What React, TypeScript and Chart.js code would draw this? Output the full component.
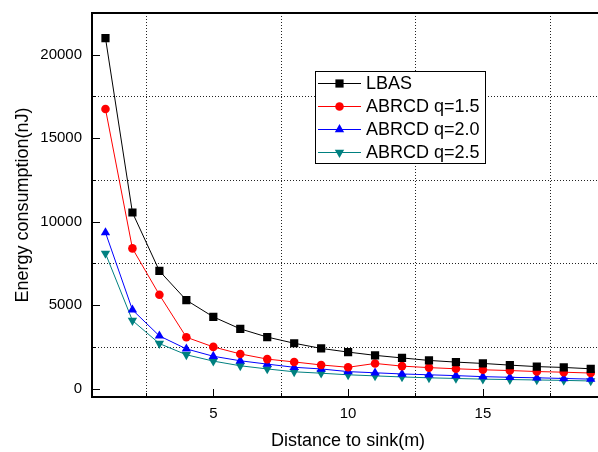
import React, { useEffect, useRef } from "react";
import { Chart, registerables } from "chart.js";

Chart.register(...registerables);

const distances = [1, 2, 3, 4, 5, 6, 7, 8, 9, 10, 11, 12, 13, 14, 15, 16, 17, 18, 19];
const lbas = [21000, 10550, 7050, 5300, 4300, 3580, 3090, 2720, 2410, 2190, 1995, 1840, 1690, 1590, 1510, 1410, 1320, 1270, 1190];
const abrcd15 = [16750, 8400, 5620, 3080, 2500, 2080, 1770, 1600, 1420, 1280, 1510, 1350, 1260, 1190, 1130, 1085, 1025, 985, 935];
const abrcd20 = [9350, 4720, 3160, 2380, 1940, 1670, 1470, 1280, 1180, 1020, 950, 880, 830, 780, 720, 680, 650, 610, 570];
const abrcd25 = [8100, 4080, 2700, 2030, 1650, 1370, 1180, 1010, 925, 830, 765, 700, 650, 610, 570, 545, 520, 495, 460];

const seriesNames = ["LBAS", "ABRCD q=1.5", "ABRCD q=2.0", "ABRCD q=2.5"];
const xTicks = [5, 10, 15];
const yTicks = [0, 5000, 10000, 15000, 20000];
const xMinor = [2.5, 7.5, 12.5, 17.5];
const yMinor = [2500, 7500, 12500, 17500];

const FONT = "Arial, 'Liberation Sans', sans-serif";

function drawMarker(ctx: CanvasRenderingContext2D, style: string, rotation: number, x: number, y: number, r: number, color: string) {
  ctx.save();
  ctx.fillStyle = color;
  ctx.beginPath();
  if (style === "rect") {
    const s = Math.SQRT1_2 * r;
    ctx.rect(x - s, y - s, 2 * s, 2 * s);
  } else if (style === "circle") {
    ctx.arc(x, y, r, 0, Math.PI * 2);
  } else if (rotation !== 180) {
    const h = r * Math.sqrt(3) / 2;
    ctx.moveTo(x, y - r);
    ctx.lineTo(x + h, y + r / 2);
    ctx.lineTo(x - h, y + r / 2);
    ctx.closePath();
  } else {
    const h = r * Math.sqrt(3) / 2;
    ctx.moveTo(x, y + r);
    ctx.lineTo(x + h, y - r / 2);
    ctx.lineTo(x - h, y - r / 2);
    ctx.closePath();
  }
  ctx.fill();
  ctx.restore();
}

const framePlugin = {
  id: "framePlugin",
  beforeDatasetsDraw(chart: any) {
    const { ctx, chartArea: a, scales } = chart;
    const x = scales.x;
    const y = scales.y;
    ctx.save();
    ctx.strokeStyle = "#222";
    ctx.lineWidth = 1;
    ctx.setLineDash([1, 2]);
    ctx.beginPath();
    xMinor.forEach((v) => {
      const px = Math.round(x.getPixelForValue(v)) + 0.5;
      ctx.moveTo(px, a.top);
      ctx.lineTo(px, a.bottom);
    });
    yMinor.forEach((v) => {
      const py = Math.round(y.getPixelForValue(v)) + 0.5;
      ctx.moveTo(a.left, py);
      ctx.lineTo(a.right, py);
    });
    ctx.stroke();
    ctx.restore();
  },
  afterDatasetsDraw(chart: any) {
    const { ctx, chartArea: a, scales } = chart;
    const x = scales.x;
    const y = scales.y;
    ctx.save();
    ctx.strokeStyle = "#000";
    ctx.lineWidth = 1;
    ctx.beginPath();
    xTicks.forEach((v) => {
      const px = Math.round(x.getPixelForValue(v)) + 0.5;
      ctx.moveTo(px, a.bottom);
      ctx.lineTo(px, a.bottom - 8);
    });
    xMinor.forEach((v) => {
      const px = Math.round(x.getPixelForValue(v)) + 0.5;
      ctx.moveTo(px, a.bottom);
      ctx.lineTo(px, a.bottom - 4);
    });
    yTicks.forEach((v) => {
      const py = Math.round(y.getPixelForValue(v)) + 0.5;
      ctx.moveTo(a.left, py);
      ctx.lineTo(a.left + 8, py);
    });
    yMinor.forEach((v) => {
      const py = Math.round(y.getPixelForValue(v)) + 0.5;
      ctx.moveTo(a.left, py);
      ctx.lineTo(a.left + 4, py);
    });
    ctx.stroke();
    ctx.lineWidth = 2;
    ctx.strokeRect(a.left, a.top, a.right - a.left, a.bottom - a.top);

    // legend
    const lx = 315, ly = 71, lw = 170, lh = 92;
    ctx.fillStyle = "#fff";
    ctx.fillRect(lx, ly, lw, lh);
    ctx.lineWidth = 1;
    ctx.strokeStyle = "#000";
    ctx.strokeRect(lx + 0.5, ly + 0.5, lw, lh);
    const rowY = [83, 106, 129, 152];
    chart.data.datasets.forEach((ds: any, i: number) => {
      const cy = rowY[i] + 0.5;
      ctx.strokeStyle = ds.borderColor;
      ctx.lineWidth = 1;
      ctx.beginPath();
      ctx.moveTo(318, cy);
      ctx.lineTo(361, cy);
      ctx.stroke();
      drawMarker(ctx, ds.pointStyle, ds.pointRotation || 0, 339.5, cy, ds.pointRadius, ds.backgroundColor);
      ctx.fillStyle = "#000";
      ctx.font = `18px ${FONT}`;
      ctx.textBaseline = "middle";
      ctx.textAlign = "left";
      ctx.fillText(ds.label, 366, cy + 1);
    });
    ctx.restore();
  },
};

function makeSeries(label: string, values: number[], color: string, pointStyle: string, radius: number, rotation = 0) {
  return {
    label,
    data: distances.map((d, i) => ({ x: d, y: values[i] })),
    borderColor: color,
    backgroundColor: color,
    borderWidth: 1,
    pointStyle,
    pointRadius: radius,
    pointHoverRadius: radius,
    pointBorderWidth: 0,
    pointRotation: rotation,
    tension: 0,
  };
}

export default function App() {
  const canvasRef = useRef<HTMLCanvasElement | null>(null);

  useEffect(() => {
    if (!canvasRef.current) return;
    const chart = new Chart(canvasRef.current, {
      type: "line",
      data: {
        datasets: [
          makeSeries(seriesNames[0], lbas, "#000000", "rect", 5.8),
          makeSeries(seriesNames[1], abrcd15, "#ff0000", "circle", 4.3),
          makeSeries(seriesNames[2], abrcd20, "#0000ff", "triangle", 5.4),
          makeSeries(seriesNames[3], abrcd25, "#008080", "triangle", 5.4, 180),
        ] as any,
      },
      options: {
        responsive: false,
        animation: false,
        devicePixelRatio: 1,
        layout: { padding: { top: 13, right: 4, left: 0, bottom: 0 } },
        plugins: {
          legend: { display: false },
          tooltip: { enabled: false },
        },
        scales: {
          x: {
            type: "linear",
            min: 0.5,
            max: 19.5,
            afterBuildTicks: (scale: any) => {
              scale.ticks = xTicks.map((v) => ({ value: v }));
            },
            afterFit: (scale: any) => {
              scale.height = 55;
              scale.paddingLeft = 0;
              scale.paddingRight = 0;
            },
            grid: { display: false, drawTicks: false },
            border: { display: false },
            ticks: {
              color: "#000",
              font: { family: FONT, size: 15 },
              padding: 8,
              maxRotation: 0,
              autoSkip: false,
              callback: (v: any) => String(v),
            },
            title: {
              display: true,
              text: "Distance to sink(m)",
              color: "#000",
              font: { family: FONT, size: 18 },
              padding: { top: 0, bottom: 0 },
            },
          },
          y: {
            type: "linear",
            min: -500,
            max: 22500,
            afterBuildTicks: (scale: any) => {
              scale.ticks = yTicks.map((v) => ({ value: v }));
            },
            afterFit: (scale: any) => {
              scale.width = 92;
              scale.paddingTop = 0;
              scale.paddingBottom = 0;
            },
            grid: { display: false, drawTicks: false },
            border: { display: false },
            ticks: {
              color: "#000",
              font: { family: FONT, size: 15 },
              padding: 10,
              autoSkip: false,
              callback: (v: any) => String(v),
            },
            title: {
              display: true,
              text: "Energy consumption(nJ)",
              color: "#000",
              font: { family: FONT, size: 18 },
              padding: { top: 12, bottom: 0 },
            },
          },
        },
      } as any,
      plugins: [framePlugin],
    });
    return () => chart.destroy();
  }, []);

  return (
    <div style={{ position: "absolute", left: 0, top: 0, width: 598, height: 452, overflow: "hidden", background: "#fff" }}>
      <canvas ref={canvasRef} width={610} height={452} style={{ display: "block" }} />
    </div>
  );
}
